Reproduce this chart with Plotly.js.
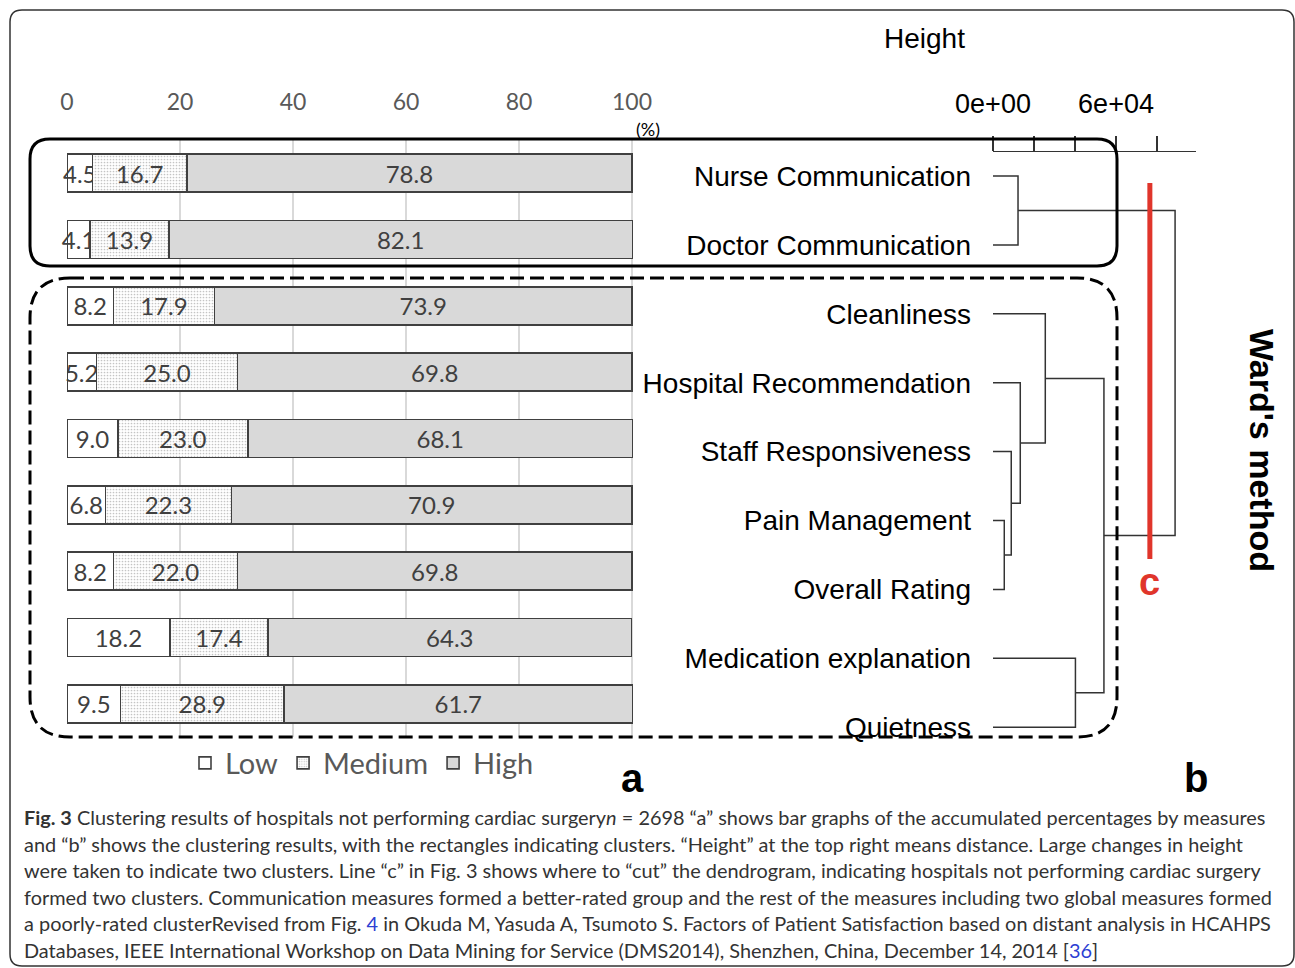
<!DOCTYPE html>
<html>
<head>
<meta charset="utf-8">
<script src="https://cdn.plot.ly/plotly-3.0.1.min.js"></script>
<style>html,body{margin:0;padding:0;background:#fff;}#chart{width:1295px;height:968px;}</style>
</head>
<body>
<div id="chart"></div>
<script>
// ---------- data ----------
const measures = ["Nurse Communication", "Doctor Communication", "Cleanliness", "Hospital Recommendation",
  "Staff Responsiveness", "Pain Management", "Overall Rating", "Medication explanation", "Quietness"];
const lowPct    = [4.5, 4.1, 8.2, 5.2, 9.0, 6.8, 8.2, 18.2, 9.5];
const mediumPct = [16.7, 13.9, 17.9, 25.0, 23.0, 22.3, 22.0, 17.4, 28.9];
const highPct   = [78.8, 82.1, 73.9, 69.8, 68.1, 70.9, 69.8, 64.3, 61.7];
const pctTicks  = [0, 20, 40, 60, 80, 100];

// dendrogram (hclust style: negative = leaf (1-based), positive = earlier merge (1-based))
const mergeA  = [-6, -5, -1, -4, -3, -8, 5, 3];
const mergeB  = [-7,  1, -2,  2,  4, -9, 6, 7];
const mergeHeight = [5500, 8900, 12200, 13300, 25500, 40200, 54100, 88800];
const heightTicks = [0, 20000, 40000, 60000, 80000];
const heightTickText = ["0e+00", "", "", "6e+04", ""];
const cutHeight = 76500;

// ---------- helpers ----------
const W = 1295, H = 968;
const px = x => x / W, py = y => 1 - y / H;

const mergeY = [];
function childPos(c){
  if (c < 0) return {h: 0, y: -c - 1};
  return {h: mergeHeight[c - 1], y: mergeY[c - 1]};
}
const dx = [], dy = [];
for (let i = 0; i < mergeA.length; i++){
  const a = childPos(mergeA[i]), b = childPos(mergeB[i]);
  const h = mergeHeight[i];
  dx.push(a.h, h, h, b.h, null);
  dy.push(a.y, a.y, b.y, b.y, null);
  mergeY.push((a.y + b.y) / 2);
}
const leafIdx = measures.map((_, i) => i);

const barLine = {color: '#404040', width: 1.6};
const txtFont = {family: 'Lato, Carlito, sans-serif', size: 24, color: '#404040'};
function barTrace(name, vals, marker){
  return {type: 'bar', orientation: 'h', name: name, y: measures, x: vals,
    marker: Object.assign({line: barLine}, marker),
    texttemplate: '%{x:.1f}', textposition: 'inside', insidetextanchor: 'middle', textangle: 0,
    constraintext: 'none', cliponaxis: false, insidetextfont: txtFont, textfont: txtFont,
    hoverinfo: 'skip', xaxis: 'x', yaxis: 'y'};
}

const traces = [
  barTrace('Low', lowPct, {color: '#ffffff'}),
  barTrace('Medium', mediumPct, {color: '#ffffff', pattern: {shape: '.', fgcolor: '#c4c4c4', bgcolor: '#ffffff', size: 3, solidity: 0.25}}),
  barTrace('High', highPct, {color: '#d9d9d9'}),
  {type: 'scatter', mode: 'lines', x: dx, y: dy, xaxis: 'x2', yaxis: 'y2', showlegend: false,
   line: {color: '#333333', width: 1.5}, hoverinfo: 'skip'},
  {type: 'scatter', mode: 'lines', x: [cutHeight, cutHeight], y: [0.10, 5.56], xaxis: 'x2', yaxis: 'y2', showlegend: false,
   line: {color: '#e0352b', width: 5}, hoverinfo: 'skip'}
];

function roundRect(x0, y0, x1, y1, r){
  const P = (x, y) => px(x) + ',' + py(y);
  return 'M' + P(x0 + r, y0) + ' L' + P(x1 - r, y0) + ' Q' + P(x1, y0) + ' ' + P(x1, y0 + r) +
    ' L' + P(x1, y1 - r) + ' Q' + P(x1, y1) + ' ' + P(x1 - r, y1) +
    ' L' + P(x0 + r, y1) + ' Q' + P(x0, y1) + ' ' + P(x0, y1 - r) +
    ' L' + P(x0, y0 + r) + ' Q' + P(x0, y0) + ' ' + P(x0 + r, y0) + ' Z';
}

const arial = 'Liberation Sans, Arial, sans-serif';
const capFont = {family: 'Lato, sans-serif', size: 19.9, color: '#333333'};
const blue = '#2d3fd3';
const captionLines = [
  '<b>Fig. 3</b> Clustering results of hospitals not performing cardiac surgery<i>n</i> = 2698 “a” shows bar graphs of the accumulated percentages by measures',
  'and “b” shows the clustering results, with the rectangles indicating clusters. “Height” at the top right means distance. Large changes in height',
  'were taken to indicate two clusters. Line “c” in Fig. 3 shows where to “cut” the dendrogram, indicating hospitals not performing cardiac surgery',
  'formed two clusters. Communication measures formed a better-rated group and the rest of the measures including two global measures formed',
  'a poorly-rated clusterRevised from Fig. <span style="color:' + blue + '">4</span> in Okuda M, Yasuda A, Tsumoto S. Factors of Patient Satisfaction based on distant analysis in HCAHPS',
  'Databases, IEEE International Workshop on Data Mining for Service (DMS2014), Shenzhen, China, December 14, 2014 [<span style="color:' + blue + '">36</span>]'
];
const captionY = [817, 843.5, 870, 896.5, 923, 949.5];

function note(text, x, y, font, extra){
  return Object.assign({text: text, x: px(x), y: py(y), xref: 'paper', yref: 'paper', showarrow: false,
    xanchor: 'center', yanchor: 'middle', font: font}, extra || {});
}
const annotations = [
  note('(%)', 648, 129, {family: 'Lato, sans-serif', size: 18, color: '#000'}),
  note('Height', 924, 38, {family: arial, size: 28, color: '#000'}),
  note("<b>Ward's method</b>", 1262, 450, {family: arial, size: 34, color: '#000'}, {textangle: 90}),
  Object.assign(note('<b>c</b>', 0, 582, {family: arial, size: 38, color: '#e0352b'}), {x: cutHeight, xref: 'x2'}),
  note('<b>a</b>', 632, 778, {family: arial, size: 40, color: '#000'}),
  note('<b>b</b>', 1196, 778, {family: arial, size: 40, color: '#000'})
];
captionLines.forEach((t, i) => annotations.push(note(t, 22, captionY[i], capFont, {xanchor: 'left', align: 'left'})));

// x range slightly beyond 100 so rounded totals (100.1) stay in range; domain widened to keep the same scale
const xMax = 100.3, pxPerPct = 5.65;

const layout = {
  width: W, height: H, autosize: false,
  margin: {l: 0, r: 0, t: 0, b: 0, pad: 0},
  paper_bgcolor: '#ffffff', plot_bgcolor: 'rgba(0,0,0,0)',
  barmode: 'stack', bargap: 0.427,
  showlegend: true,
  legend: {orientation: 'h', x: px(362), xanchor: 'center', y: py(763), yanchor: 'middle',
    font: {family: 'Lato, sans-serif', size: 29, color: '#595959'}, itemwidth: 30, traceorder: 'normal',
    bgcolor: 'rgba(0,0,0,0)'},
  xaxis: {domain: [px(67), px(67 + xMax * pxPerPct)], range: [0, xMax], side: 'top', anchor: 'y', tickvals: pctTicks,
    tickfont: {family: 'Lato, sans-serif', size: 23, color: '#595959'}, showgrid: true, gridcolor: '#d9d9d9',
    gridwidth: 1.5, zeroline: false, showline: false, ticks: '', ticklabelstandoff: 24, fixedrange: true},
  yaxis: {domain: [py(737), py(140)], type: 'category', autorange: 'reversed', showticklabels: false,
    showgrid: false, zeroline: false, showline: false, anchor: 'x', fixedrange: true},
  xaxis2: {domain: [px(993), px(1196)], range: [0, 99000], anchor: 'y2', side: 'top', tickvals: heightTicks,
    ticktext: heightTickText, ticks: 'outside', ticklen: 15, tickwidth: 1.5, tickcolor: '#333',
    showline: true, linecolor: '#333', linewidth: 1.5, showgrid: false, zeroline: false,
    tickfont: {family: arial, size: 27, color: '#000'}, ticklabelstandoff: 12, fixedrange: true},
  yaxis2: {domain: [py(761.65), py(152)], range: [8.5, -0.3483], anchor: 'x2', tickvals: leafIdx, ticktext: measures,
    showline: false, showgrid: false, zeroline: false, ticks: '',
    tickfont: {family: arial, size: 28, color: '#000'}, ticklabelstandoff: 21, fixedrange: true},
  shapes: [
    {type: 'path', xref: 'paper', yref: 'paper', path: roundRect(10, 10, 1294, 966, 12), line: {color: '#333', width: 1.5}},
    {type: 'path', xref: 'paper', yref: 'paper', path: roundRect(30, 139, 1117, 266, 20), line: {color: '#000', width: 3}},
    {type: 'path', xref: 'paper', yref: 'paper', path: roundRect(30, 278, 1117, 737, 40), line: {color: '#000', width: 3, dash: '14px,6px'}}
  ],
  annotations: annotations
};

Plotly.newPlot('chart', traces, layout, {displayModeBar: false, staticPlot: true});
</script>
</body>
</html>
